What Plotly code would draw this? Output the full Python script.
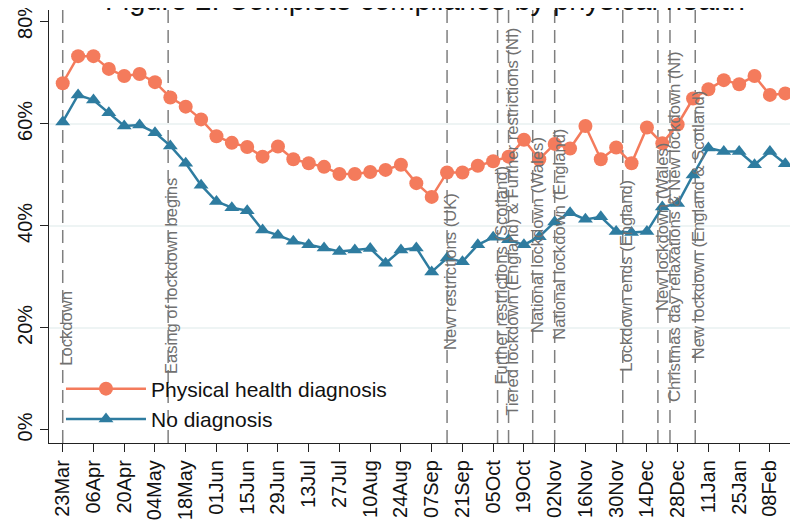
import pandas as pd
import plotly.graph_objects as go

# semanas (segunda-feira) de 23/03/2020 a 15/02/2021
semanas = pd.date_range("2020-03-23", periods=48, freq="7D").strftime("%Y-%m-%d").tolist()

fisica = [68.0, 73.3, 73.3, 70.8, 69.4, 69.8, 68.2, 65.2, 63.4, 60.9,
          57.6, 56.3, 55.5, 53.6, 55.6, 53.1, 52.3, 51.6, 50.2, 50.2,
          50.6, 51.0, 52.0, 48.4, 45.7, 50.5, 50.5, 51.8, 52.7, 53.6,
          56.9, 53.1, 56.1, 55.2, 59.6, 53.1, 55.4, 52.3, 59.3, 56.2,
          59.9, 65.0, 66.8, 68.6, 67.8, 69.4, 65.7, 66.0]

sem_diag = [60.4, 65.7, 64.7, 62.2, 59.6, 59.8, 58.3, 55.7, 52.3, 48.0,
            44.8, 43.6, 43.0, 39.2, 38.2, 37.0, 36.3, 35.7, 35.0, 35.3,
            35.6, 32.7, 35.3, 35.7, 31.0, 33.7, 33.0, 36.3, 37.8, 37.3,
            36.3, 37.9, 40.8, 42.6, 41.3, 41.8, 38.9, 38.7, 38.9, 43.7,
            44.4, 50.0, 55.3, 54.6, 54.6, 52.0, 54.6, 52.2]

# eventos (data, texto, altura do centro do texto em %)
ev_datas = ["2020-03-23", "2020-05-10", "2020-09-14", "2020-10-07",
            "2020-10-12", "2020-10-23", "2020-11-02", "2020-12-03",
            "2020-12-19", "2020-12-24 12:00", "2021-01-05"]
ev_textos = ["Lockdown", "Easing of lockdown begins", "New restrictions (UK)",
             "Further restrictions (Scotland)",
             "Tiered lockdown (England) & Further restrictions (NI)",
             "National lockdown (Wales)", "National lockdown (England)",
             "Lockdown ends (England)", "New lockdown (Wales)",
             "Christmas day relaxations & New lockdown (NI)",
             "New lockdown (England & Scotland)"]
ev_y = [20.0, 30.2, 31.0, 30.4, 40.8, 38.2, 38.4, 30.2, 39.8, 39.8, 40.2]

# eixo x: a cada 14 dias
x_ticks = pd.date_range("2020-03-23", "2021-02-08", freq="14D")
x_vals = x_ticks.strftime("%Y-%m-%d").tolist()
x_labels = x_ticks.strftime("%d%b").tolist()

y_ticks = [0, 20, 40, 60, 80]
y_labels = ["0%", "20%", "40%", "60%", "80%"]
grade = [20, 40, 60]

fonte = "Arial, Liberation Sans, sans-serif"
laranja = "#F47B5C"
azul = "#2E7CA0"

fig = go.Figure()

for g in grade:
    fig.add_hline(y=g, line=dict(color="#E8F0F1", width=1.5), layer="below")

for d in ev_datas:
    fig.add_shape(type="line", xref="x", yref="paper", x0=d, x1=d, y0=0, y1=1,
                  line=dict(color="#7F7F7F", width=1.5, dash="13px,7px"),
                  layer="below")

fig.add_trace(go.Scatter(
    x=semanas, y=fisica, name="Physical health diagnosis",
    mode="lines+markers", legendgroup="a",
    line=dict(color=laranja, width=2.5),
    marker=dict(symbol="circle", size=14, color=laranja)
))
fig.add_trace(go.Scatter(
    x=semanas, y=sem_diag, name="No diagnosis",
    mode="lines+markers", legendgroup="b",
    line=dict(color=azul, width=2.5),
    marker=dict(symbol="triangle-up", size=13, color=azul)
))

for d, t, yy in zip(ev_datas, ev_textos, ev_y):
    fig.add_annotation(x=d, y=yy, text=t, textangle=-90, showarrow=False,
                       xanchor="center", yanchor="middle", xshift=4,
                       font=dict(family=fonte, size=16.6, color="#707070"))

fig.add_annotation(text="Figure 2: Complete compliance by physical health",
                   xref="paper", yref="paper", x=0.502, y=1, yshift=-8,
                   xanchor="center", yanchor="bottom", showarrow=False,
                   font=dict(family=fonte, size=29, color="#111111"))

# a página tem margem de 8px no body: figura 790x517 ocupa a janela 798x525
fig.update_layout(
    width=790, height=517, autosize=False,
    margin=dict(l=41, r=0, t=2, b=82),
    plot_bgcolor="white", paper_bgcolor="white",
    font=dict(family=fonte, color="#111111"),
    showlegend=True,
    legend=dict(x=0.016, y=0.172, xanchor="left", yanchor="top",
                bgcolor="rgba(0,0,0,0)", tracegroupgap=0, itemwidth=80,
                font=dict(family=fonte, size=21, color="#111111")),
)
fig.update_xaxes(
    type="date",
    range=["2020-03-16 18:00", "2021-02-20 19:00"],
    tickmode="array", tickvals=x_vals, ticktext=x_labels,
    tickangle=270, ticks="outside", ticklen=8, tickcolor="#222222",
    showline=True, linecolor="#222222", linewidth=1.3,
    showgrid=False, zeroline=False, automargin=False,
    ticklabeloverflow="allow",
    tickfont=dict(family=fonte, size=20, color="#111111")
)
fig.update_yaxes(
    range=[-2.55, 82.35], tickmode="array", tickvals=y_ticks, ticktext=y_labels,
    tickangle=-90, ticks="outside", ticklen=8, tickcolor="#222222",
    showline=True, linecolor="#222222", linewidth=1.3,
    showgrid=False, zeroline=False, automargin=False,
    ticklabeloverflow="allow",
    tickfont=dict(family=fonte, size=20, color="#111111")
)

fig.write_html("out.html")
